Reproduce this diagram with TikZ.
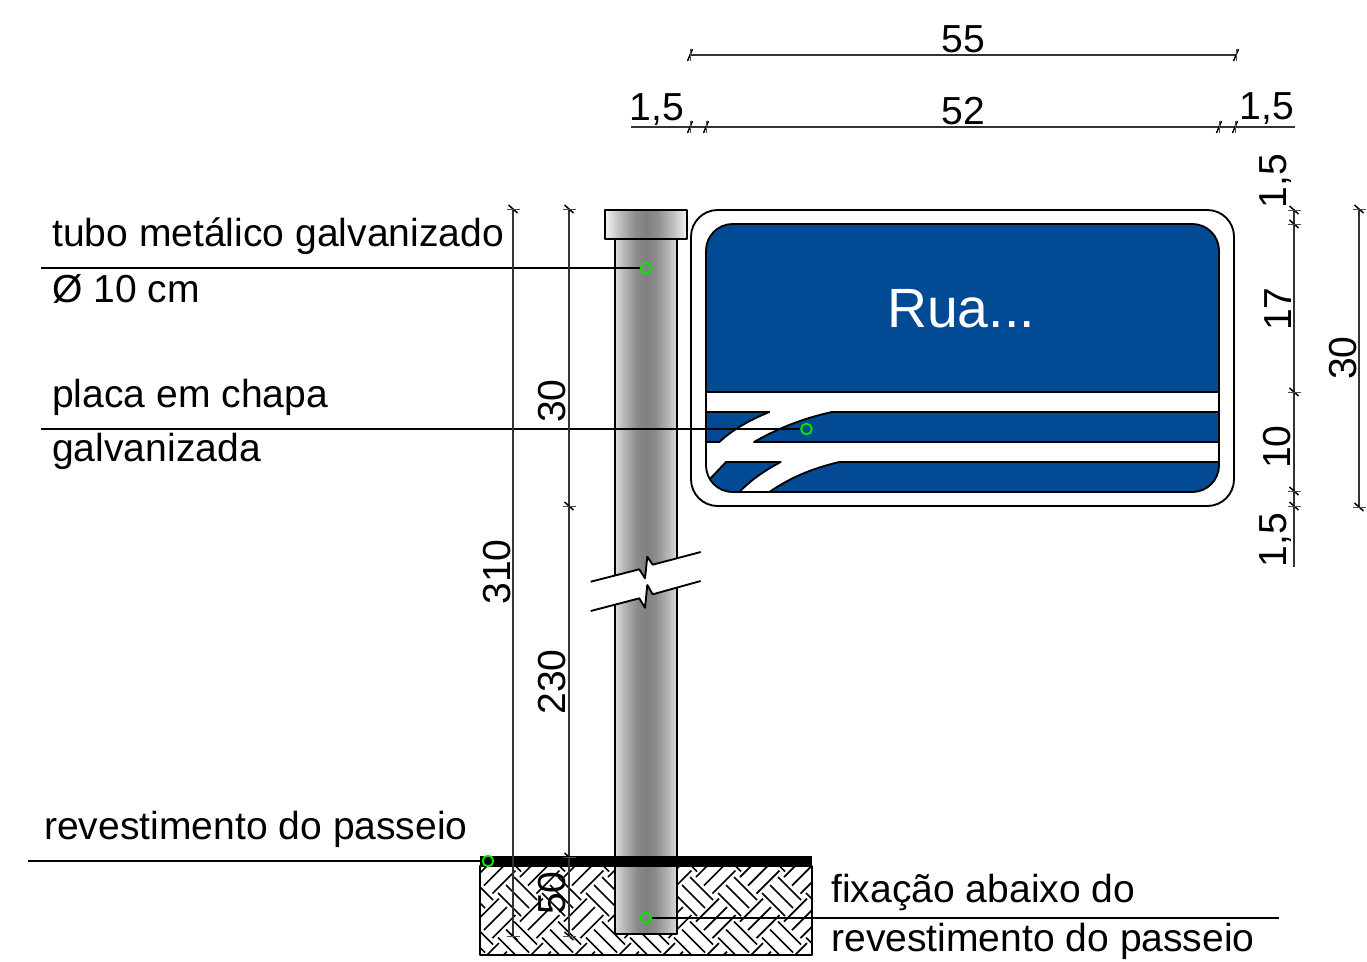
\documentclass[tikz,border=0pt]{standalone}
\usepackage{fontspec}
\setmainfont{Liberation Sans}
\definecolor{signblue}{HTML}{034A94}
\definecolor{mark}{HTML}{00E600}
\pgfdeclarehorizontalshading{postshade}{100bp}{
  color(0bp)=(black!14); color(25bp)=(black!14); color(33bp)=(black!30);
  color(43bp)=(black!46); color(50bp)=(black!50); color(57bp)=(black!46); color(67bp)=(black!30);
  color(75bp)=(black!14); color(100bp)=(black!14)}
\pgfdeclarehorizontalshading{capshade}{100bp}{
  color(0bp)=(black!4); color(25bp)=(black!4); color(33bp)=(black!24);
  color(43bp)=(black!44); color(50bp)=(black!50); color(57bp)=(black!44); color(67bp)=(black!24);
  color(75bp)=(black!4); color(100bp)=(black!4)}
\tikzset{
  x=0.75pt,y=-0.75pt,
  outline/.style={draw=black,line width=1.4pt,line join=round},
  dimline/.style={draw=black!80,line width=0.9pt},
  leader/.style={draw=black,line width=1.1pt},
  hatchline/.style={draw=black,line width=1.3pt},
  lbl/.style={font=\fontsize{29.3}{32}\selectfont,inner sep=0pt,anchor=base west},
  dimh/.style={font=\fontsize{29.3}{32}\selectfont,inner sep=0pt,anchor=base},
  dimv/.style={font=\fontsize{29.3}{32}\selectfont,inner sep=0pt,anchor=base,rotate=90},
  target/.style={circle,draw=mark,line width=1.4pt,minimum size=8pt,inner sep=0pt},
  pics/vtick/.style={code={
    \draw[black,line width=1.1pt] (-4.5,-4) -- (4.5,4);
    \draw[black!70,line width=0.7pt] (-6.5,0) -- (6.5,0);}},
  pics/htick/.style={code={
    \draw[black,line width=1.1pt] (-2.5,6) -- (2.5,-6);
    \draw[black!70,line width=0.7pt] (0,-6) -- (0,6);}},
}
\begin{document}
\begin{tikzpicture}
\useasboundingbox (0,0) rectangle (1367,961);

% ground
\begin{scope}
  \clip (480,866) rectangle (812,955);
  \foreach \i in {-6,...,4}{
    \foreach \j in {-1,...,3}{
      \begin{scope}[shift={(\i*44,\j*44.5)}]
        \foreach \a/\b in {682/885,690/877,674/893}{
          \draw[hatchline] (\a,\b) -- ++(23,23);}
        \foreach \a/\b in {696/877,704/885.5,712.5/893.5}{
          \draw[hatchline] (\a,\b) -- ++(23,-23);}
      \end{scope}
    }
  }
\end{scope}
\draw[outline] (480,866) rectangle (812,955);

% post
\shade[shading=postshade] (615,238) rectangle (677,934);
\draw[outline,line width=1.6pt] (615,238) -- (615,934) -- (677,934) -- (677,238);
\shade[shading=capshade] (605,210) rectangle (687,239);
\draw[outline] (605,210) rectangle (687,239);

% break
\fill[white] (590.7,581.7) -- (639.3,569.3) -- (645,578.3) -- (647.3,556.7) -- (652.7,564.7) -- (700.7,552)
  -- (700.7,581) -- (652.7,594.3) -- (647.3,585) -- (645,607.7) -- (639.3,598.3) -- (590.7,611) -- cycle;
\draw[outline] (590.7,581.7) -- (639.3,569.3) -- (645,578.3) -- (647.3,556.7) -- (652.7,564.7) -- (700.7,552);
\draw[outline] (590.7,611) -- (639.3,598.3) -- (645,607.7) -- (647.3,585) -- (652.7,594.3) -- (700.7,581);

% paving band
\fill[black] (480,856) rectangle (812,867);

% sign
\draw[outline,fill=white,rounded corners=20] (691,210) rectangle (1234,506);
\begin{scope}
  \clip[rounded corners=20] (706,224) rectangle (1219,492);
  \fill[signblue] (700,218) rectangle (1225,392);
  \fill[signblue] (706,412) -- (769.3,412) .. controls (745,422) and (730,432) .. (719.3,442) -- (706,442) -- cycle;
  \fill[signblue] (832,412) .. controls (800,419) and (775,430) .. (754,442) -- (1219,442) -- (1219,412) -- cycle;
  \fill[signblue] (726,462) -- (780.7,462) .. controls (762,472) and (750,481) .. (739.3,492) -- (700,492) -- (700,485) -- (708.3,480.7) -- cycle;
  \fill[signblue] (839.3,462) .. controls (810,469) and (790,478) .. (769.3,492) -- (1225,492) -- (1225,462) -- cycle;
  \draw[outline] (706,392) -- (1219,392);
  \draw[outline] (706,412) -- (769.3,412) .. controls (745,422) and (730,432) .. (719.3,442) -- (706,442);
  \draw[outline] (1219,412) -- (832,412) .. controls (800,419) and (775,430) .. (754,442) -- (1219,442);
  \draw[outline] (708.3,480.7) -- (726,462) -- (780.7,462) .. controls (762,472) and (750,481) .. (739.3,492);
  \draw[outline] (1219,462) -- (839.3,462) .. controls (810,469) and (790,478) .. (769.3,492);
\end{scope}
\draw[outline,rounded corners=20] (706,224) rectangle (1219,492);
\node[font=\fontsize{41.5}{44}\selectfont,text=white,inner sep=0pt,anchor=base] (rua) at (961,327) {Rua...};

% leader targets
\node[target] (t1) at (646,268) {};
\node[target] (t2) at (806.5,429) {};
\node[target] (t3) at (488,861) {};
\node[target] (t4) at (646,918) {};
\coordinate (l1) at (41,268);
\coordinate (l2) at (41,429);
\coordinate (l3) at (28,861);
\coordinate (l4) at (1279,918);
\draw[leader] (l1) -- (t1);
\draw[leader] (l2) -- (t2);
\draw[leader] (l3) -- (t3);
\draw[leader] (t4) -- (l4);

% leader labels
\node[lbl] (a1) at (52,246) {tubo metálico galvanizado};
\node[lbl] (a2) at (52,302) {Ø 10 cm};
\node[lbl] (a3) at (52,407) {placa em chapa};
\node[lbl] (a4) at (52,461) {galvanizada};
\node[lbl] (a5) at (44,839) {revestimento do passeio};
\node[lbl] (a6) at (831,902) {fixação abaixo do};
\node[lbl] (a7) at (831,951) {revestimento do passeio};

% horizontal dimensions
\coordinate (h1a) at (690,55);
\coordinate (h1b) at (1236,55);
\draw[dimline] (h1a) -- (h1b);
\path (h1a) pic {htick} (h1b) pic {htick};
\coordinate (h2a) at (631,127);
\coordinate (h2b) at (1295,127);
\draw[dimline] (h2a) -- (h2b);
\path (690,127) pic {htick} (706,127) pic {htick} (1219,127) pic {htick} (1235,127) pic {htick};
\node[dimh] (d55) at (963,52) {55};
\node[dimh] (d52) at (963,124) {52};
\node[dimh] (d15a) at (657,120) {1,5};
\node[dimh] (d15b) at (1267,119) {1,5};

% right vertical dimensions
\coordinate (v1a) at (1294,209);
\coordinate (v1b) at (1294,567);
\draw[dimline] (v1a) -- (v1b);
\path (1294,210) pic {vtick} (1294,224) pic {vtick} (1294,392) pic {vtick} (1294,491) pic {vtick} (1294,506) pic {vtick};
\coordinate (v2a) at (1359,209);
\coordinate (v2b) at (1359,507);
\draw[dimline] (v2a) -- (v2b);
\path (v2a) pic {vtick} (v2b) pic {vtick};
\node[dimv] (d15c) at (1286,181) {1,5};
\node[dimv] (d17) at (1291,309) {17};
\node[dimv] (d10) at (1290,447) {10};
\node[dimv] (d15d) at (1286,540) {1,5};
\node[dimv] (d30r) at (1356,358) {30};

% left vertical dimensions
\coordinate (v3a) at (513,209);
\coordinate (v3b) at (513,936);
\draw[dimline] (v3a) -- (v3b);
\path (v3a) pic {vtick} (v3b) pic {vtick};
\coordinate (v4a) at (569,209);
\coordinate (v4b) at (569,936);
\draw[dimline] (v4a) -- (v4b);
\path (v4a) pic {vtick} (569,506) pic {vtick} (569,857) pic {vtick} (v4b) pic {vtick};
\node[dimv] (d310) at (510,572) {310};
\node[dimv] (d30) at (565,401) {30};
\node[dimv] (d230) at (565,682) {230};
\node[dimv] (d50) at (565,893) {50};
\end{tikzpicture}
\end{document}
